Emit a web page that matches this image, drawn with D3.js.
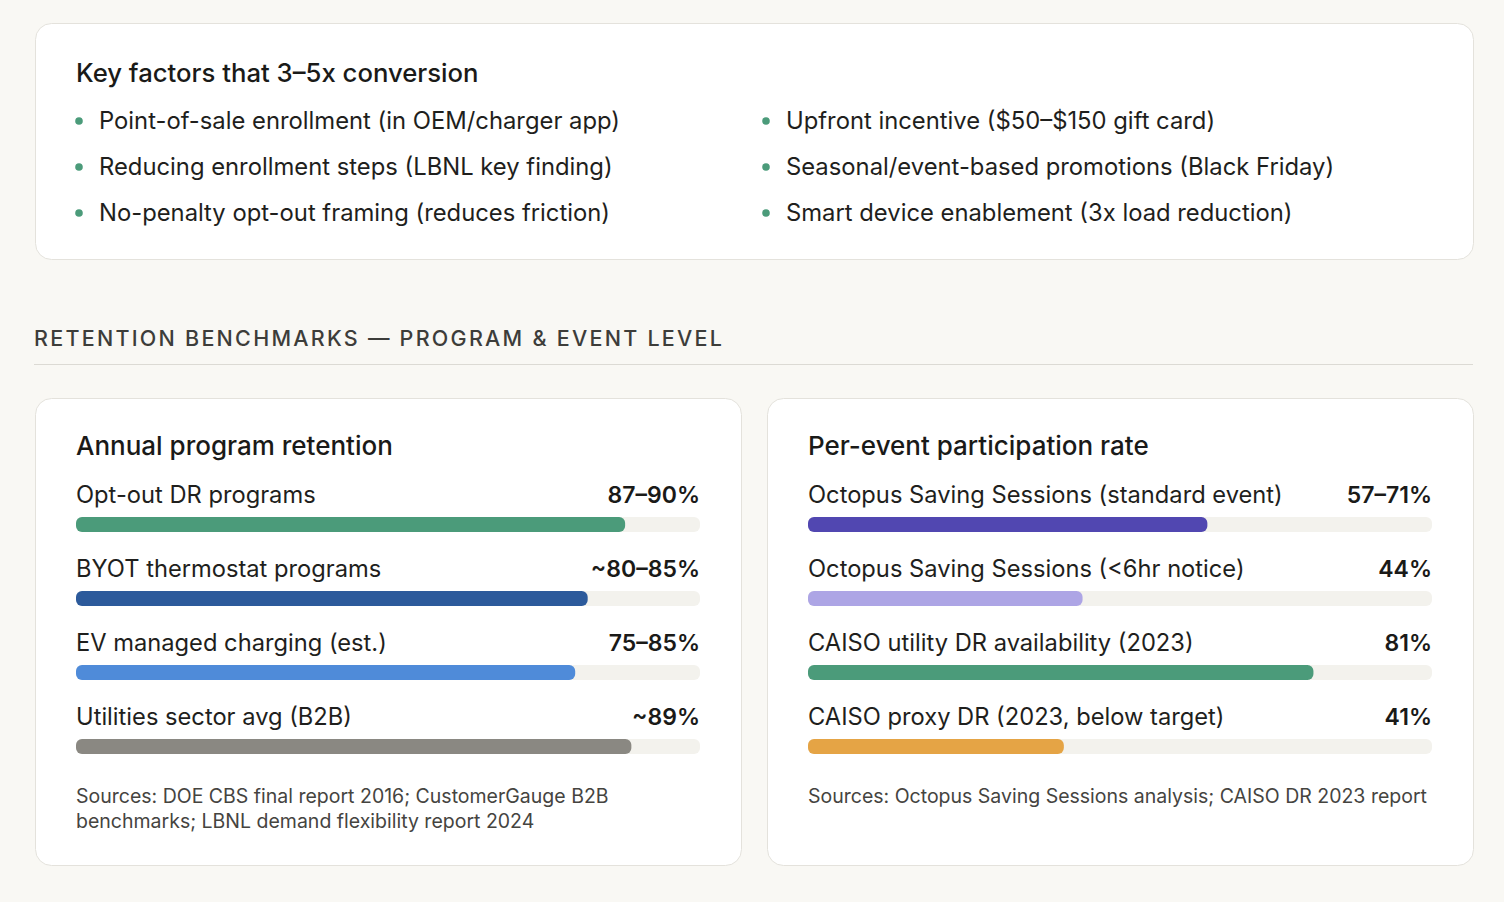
<!DOCTYPE html>
<html>
<head>
<meta charset="utf-8">
<script src="https://cdn.jsdelivr.net/npm/d3@7"></script>
<style>
  html, body { margin: 0; padding: 0; background: #f9f8f4; }
  svg { display: block; font-family: Inter, "Noto Sans", sans-serif; }
</style>
</head>
<body>
<svg id="chart" width="1504" height="902"></svg>
<script>
// --- data ---
const factorsTitle = "Key factors that 3–5x conversion";
const factorsLeft = [
  "Point-of-sale enrollment (in OEM/charger app)",
  "Reducing enrollment steps (LBNL key finding)",
  "No-penalty opt-out framing (reduces friction)"
];
const factorsRight = [
  "Upfront incentive ($50–$150 gift card)",
  "Seasonal/event-based promotions (Black Friday)",
  "Smart device enablement (3x load reduction)"
];
const sectionTitle = "RETENTION BENCHMARKS — PROGRAM & EVENT LEVEL";

const retentionTitle = "Annual program retention";
const retentionLabels = ["Opt-out DR programs", "BYOT thermostat programs", "EV managed charging (est.)", "Utilities sector avg (B2B)"];
const retentionValues = [88, 82, 80, 89];
const retentionTexts = ["87–90%", "~80–85%", "75–85%", "~89%"];
const retentionSources = ["Sources: DOE CBS final report 2016; CustomerGauge B2B", "benchmarks; LBNL demand flexibility report 2024"];

const eventTitle = "Per-event participation rate";
const eventLabels = ["Octopus Saving Sessions (standard event)", "Octopus Saving Sessions (<6hr notice)", "CAISO utility DR availability (2023)", "CAISO proxy DR (2023, below target)"];
const eventValues = [64, 44, 81, 41];
const eventTexts = ["57–71%", "44%", "81%", "41%"];
const eventSources = ["Sources: Octopus Saving Sessions analysis; CAISO DR 2023 report"];

// colours
const retentionColors = ["#4b9b7a", "#2c5a9b", "#4f8bd9", "#8a8882"];
const eventColors = ["#5147b1", "#ada5e5", "#4b9b7a", "#e5a445"];

const svg = d3.select("#chart");

function card(x, y, w, h) {
  svg.append("rect")
    .attr("x", x + 0.5).attr("y", y + 0.5)
    .attr("width", w).attr("height", h)
    .attr("rx", 16)
    .attr("fill", "#ffffff")
    .attr("stroke", "#e4e2dc");
}

// top card with bullet lists
card(35, 23, 1438, 236);
svg.append("text")
  .attr("x", 76).attr("y", 82)
  .attr("font-size", 25.7).attr("font-weight", 500).attr("fill", "#1a1a18")
  .text(factorsTitle);

const rowY = d3.scalePoint().domain([0, 1, 2]).range([129, 221]);
[[factorsLeft, 79], [factorsRight, 766]].forEach(([list, x0]) => {
  const g = svg.append("g");
  const item = g.selectAll("g").data(list).join("g")
    .attr("transform", (d, i) => `translate(${x0},${rowY(i)})`);
  item.append("circle").attr("cx", 0).attr("cy", -8).attr("r", 3.8).attr("fill", "#4b9b7a");
  item.append("text").attr("x", 20).attr("y", 0)
    .attr("font-size", 23.8).attr("fill", "#1f1f1d")
    .text(d => d);
});

// section header
svg.append("text")
  .attr("x", 34).attr("y", 346)
  .attr("font-size", 21.5).attr("font-weight", 500)
  .attr("letter-spacing", 2.25).attr("fill", "#3d3d3a")
  .text(sectionTitle);
svg.append("line")
  .attr("x1", 34).attr("x2", 1473).attr("y1", 364.5).attr("y2", 364.5)
  .attr("stroke", "#dcdad4");

function barCard(x0, title, labels, values, texts, colors, sources) {
  card(x0 - 41, 398, 706, 467);
  const g = svg.append("g").attr("transform", `translate(${x0},0)`);
  const w = 624;
  const x = d3.scaleLinear().domain([0, 100]).range([0, w]);
  const y = d3.scaleBand().domain(d3.range(labels.length)).range([477, 773]);

  g.append("text").attr("x", 0).attr("y", 455)
    .attr("font-size", 26).attr("font-weight", 500).attr("fill", "#1a1a18")
    .text(title);

  const row = g.selectAll("g.row").data(labels).join("g")
    .attr("class", "row")
    .attr("transform", (d, i) => `translate(0,${y(i)})`);
  row.append("text").attr("x", 0).attr("y", 26)
    .attr("font-size", 23.7).attr("fill", "#1f1f1d")
    .text(d => d);
  row.append("text").attr("x", w).attr("y", 26)
    .attr("text-anchor", "end")
    .attr("font-size", 23).attr("font-weight", 600).attr("fill", "#1a1a18")
    .text((d, i) => texts[i]);
  row.append("rect").attr("x", 0).attr("y", 40)
    .attr("width", w).attr("height", 15).attr("rx", 6)
    .attr("fill", "#f3f2ed");
  row.append("rect").attr("x", 0).attr("y", 40)
    .attr("width", (d, i) => x(values[i])).attr("height", 15).attr("rx", 6)
    .attr("fill", (d, i) => colors[i]);

  g.selectAll("text.src").data(sources).join("text")
    .attr("class", "src")
    .attr("x", 0).attr("y", (d, i) => 803 + i * 25)
    .attr("font-size", 19.5).attr("fill", "#45443f")
    .text(d => d);
}

barCard(76, retentionTitle, retentionLabels, retentionValues, retentionTexts, retentionColors, retentionSources);
barCard(808, eventTitle, eventLabels, eventValues, eventTexts, eventColors, eventSources);
</script>
</body>
</html>
